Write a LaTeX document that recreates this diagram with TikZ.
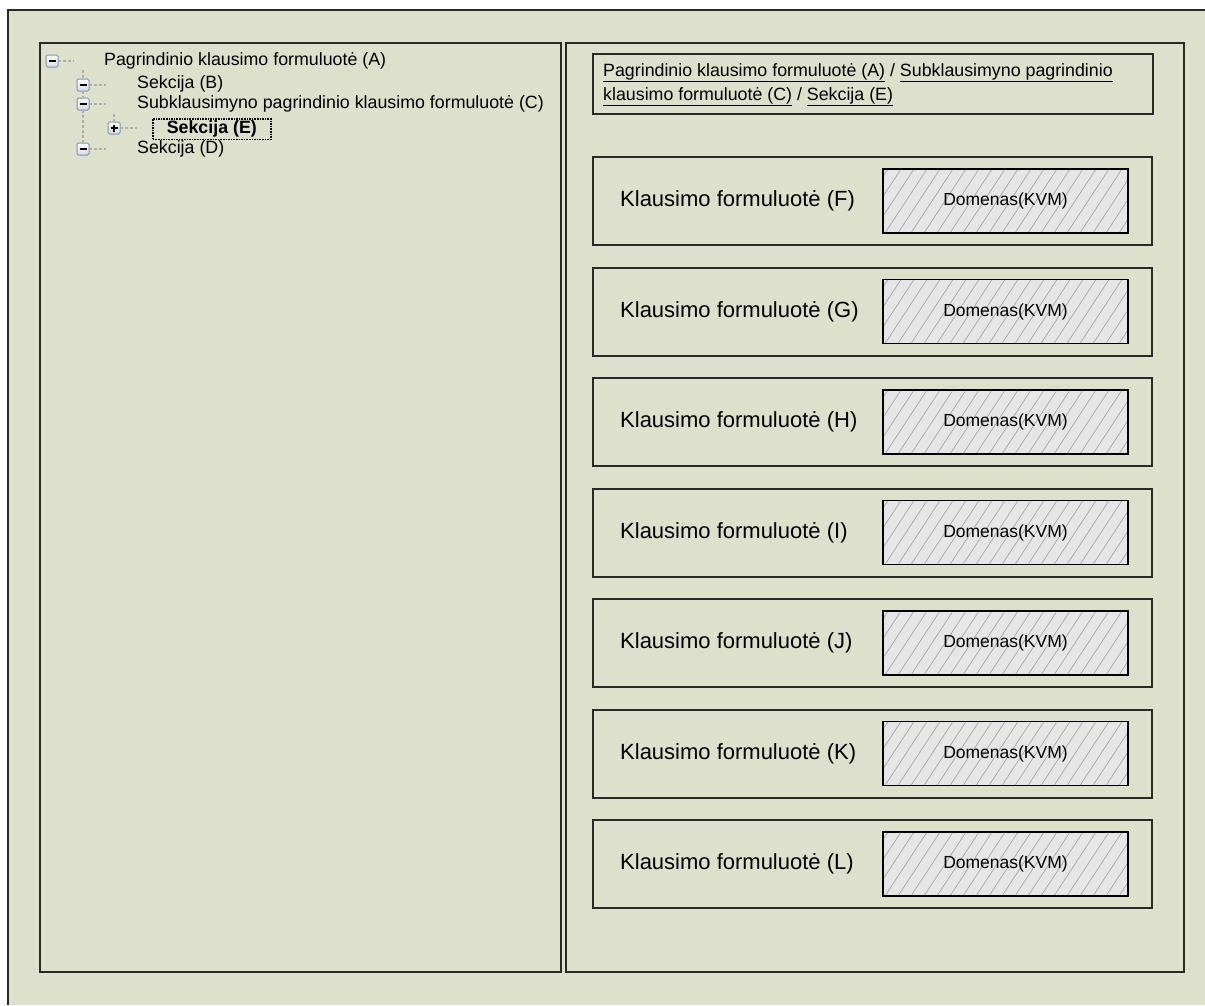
\documentclass[tikz,border=0pt]{standalone}
\usepackage{fontspec}
\setmainfont{Liberation Sans}
\definecolor{winbg}{RGB}{221,224,202}
\definecolor{edge}{RGB}{40,42,40}
\definecolor{domfill}{RGB}{230,230,230}
\definecolor{hatchgray}{RGB}{165,165,165}
\definecolor{iconblue}{RGB}{120,150,190}
\definecolor{dotgray}{RGB}{175,175,170}
\newcommand{\treefont}{\fontsize{17.8}{20}\selectfont}
\newcommand{\qfont}{\fontsize{22}{24}\selectfont}
\newcommand{\domfont}{\fontsize{17.5}{19}\selectfont}
\begin{document}
\begin{tikzpicture}[x=1pt,y=-1pt,
  panel/.style={draw=edge,line width=2.4pt,inner sep=0pt,outer sep=0pt,anchor=north west},
  qbox/.style={draw=edge,line width=2pt,inner sep=0pt,outer sep=0pt,anchor=north west,
    minimum width=559pt,minimum height=88pt},
  dombox/.style={draw=black,line width=1.6pt,fill=domfill,inner sep=0pt,outer sep=0pt,
    minimum width=245pt,minimum height=64pt,font=\domfont,
    path picture={
      \foreach \k in {0,...,24}
        \draw[hatchgray,line width=0.7pt]
          ([xshift={(\k*13-50)*1pt}]path picture bounding box.south west) -- ++(42,-64);
    }},
  qlabel/.style={anchor=west,inner sep=0pt,font=\qfont},
  treetext/.style={anchor=west,inner sep=0pt,font=\treefont},
  iconbox/.style={draw=iconblue,line width=1pt,rounded corners=1.5pt,top color=white,
    bottom color=black!15,minimum size=12pt,inner sep=0pt,outer sep=0pt},
  treeline/.style={dotgray,line width=2.2pt,dash pattern=on 3pt off 2pt},
  sign/.style={black,line width=1.6pt}
]
\useasboundingbox (0,0) rectangle (1205,1005);
\fill[white] (0,0) rectangle (1205,1005);
\fill[winbg] (8,10) rectangle (1205,1005);
\draw[edge,line width=2.4pt] (8,1005) -- (8,10) -- (1205,10);

% two panes
\node[panel,minimum width=521pt,minimum height=929pt] (treepane) at (40,43) {};
\node[panel,minimum width=618pt,minimum height=929pt] (formpane) at (566,43) {};

% tree view
\node[iconbox] (iA) at (52,61) {};
\node[iconbox] (iB) at (83,85) {};
\node[iconbox] (iC) at (83,104) {};
\node[iconbox] (iE) at (114,128) {};
\node[iconbox] (iD) at (83,149) {};
\foreach \n in {iA,iB,iC,iD}
  \draw[sign] ([xshift=-3.5pt]\n.center) -- ([xshift=3.5pt]\n.center);
\draw[sign] ([xshift=-3.5pt]iE.center) -- ([xshift=3.5pt]iE.center)
            ([yshift=-3.5pt]iE.center) -- ([yshift=3.5pt]iE.center);

\coordinate (endA) at (74,61);
\coordinate (endB) at (106,85);
\coordinate (endC) at (106,104);
\coordinate (endE) at (137,128);
\coordinate (endD) at (106,149);
\coordinate (topB) at (83,70);
\coordinate (topE) at (114,114);
\draw[treeline] (iA.east) -- (endA);
\draw[treeline] (iB.east) -- (endB);
\draw[treeline] (iC.east) -- (endC);
\draw[treeline] (iE.east) -- (endE);
\draw[treeline] (iD.east) -- (endD);
\draw[treeline] (topB) -- (iB.north);
\draw[treeline] (iB.south) -- (iC.north);
\draw[treeline] (iC.south) -- (iD.north);
\draw[treeline] (topE) -- (iE.north);

\node[treetext] (tA) at (104,61) {Pagrindinio klausimo formuluotė (A)};
\node[treetext] (tB) at (137,84) {Sekcija (B)};
\node[treetext] (tC) at (137,104) {Subklausimyno pagrindinio klausimo formuluotė (C)};
\node[treetext,font=\treefont\bfseries,draw=black,densely dotted,line width=1.6pt,
      inner xsep=14pt,inner ysep=2pt] (tE) at (152,129) {Sekcija (E)};
\node[treetext] (tD) at (137,149) {Sekcija (D)};

% breadcrumb
\node[panel,line width=2pt,minimum width=560pt,minimum height=60pt] (crumb) at (593,54) {};
\node[anchor=north west,inner sep=0pt,align=left,font=\treefont] (crumbtext) at (603,63)
  {\underline{Pagrindinio klausimo formuluotė (A)} / \underline{Subklausimyno pagrindinio}\\[4pt]
   \underline{klausimo formuluotė (C)} / \underline{Sekcija (E)}};

% question rows
\foreach \L [count=\i from 0] in {F,G,H,I,J,K,L} {
  \pgfmathsetmacro{\top}{157+110.5*\i}
  \node[qbox] (q-\L) at (593,\top) {};
  \node[dombox,anchor=north west] (dom-\L) at (883,\top+12) {Domenas(KVM)};
  \node[qlabel] (lab-\L) at (620,\top+44) {Klausimo formuluotė (\L)};
}
\end{tikzpicture}
\end{document}
